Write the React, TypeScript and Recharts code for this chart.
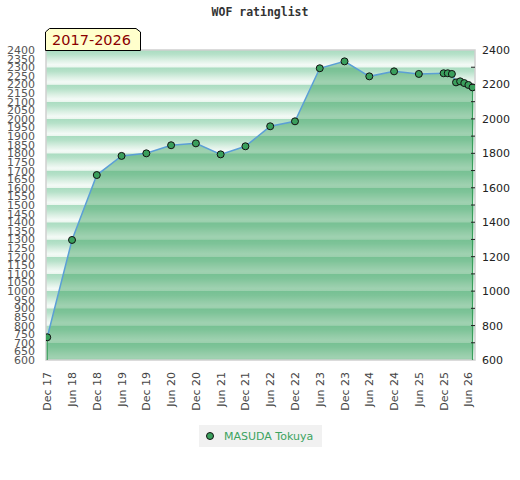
import React from "react";
import {
  ComposedChart,
  Area,
  Line,
  XAxis,
  YAxis,
  ReferenceArea,
  ReferenceLine,
} from "recharts";

// months since Dec 2017
const months = [0, 6, 12, 18, 24, 30, 36, 42, 48, 54, 60, 66, 72, 78, 84, 90, 96, 97, 98, 99, 100, 101, 102, 103];
const ratings = [732, 1297, 1674, 1785, 1800, 1847, 1858, 1794, 1841, 1957, 1986, 2294, 2334, 2247, 2276, 2261, 2265, 2265, 2261, 2212, 2218, 2208, 2197, 2183];

const xTickValues = [0, 6, 12, 18, 24, 30, 36, 42, 48, 54, 60, 66, 72, 78, 84, 90, 96, 102];
const xTickLabels = [
  "Dec 17", "Jun 18", "Dec 18", "Jun 19", "Dec 19", "Jun 20", "Dec 20", "Jun 21", "Dec 21",
  "Jun 22", "Dec 22", "Jun 23", "Dec 23", "Jun 24", "Dec 24", "Jun 25", "Dec 25", "Jun 26",
];
const leftTicks = [600, 650, 700, 750, 800, 850, 900, 950, 1000, 1050, 1100, 1150, 1200, 1250, 1300, 1350, 1400, 1450, 1500, 1550, 1600, 1650, 1700, 1750, 1800, 1850, 1900, 1950, 2000, 2050, 2100, 2150, 2200, 2250, 2300, 2350, 2400];
const rightTicks = [600, 700, 800, 900, 1000, 1100, 1200, 1300, 1400, 1500, 1600, 1700, 1800, 1900, 2000, 2100, 2200, 2300, 2400];
const bandStarts = [600, 700, 800, 900, 1000, 1100, 1200, 1300, 1400, 1500, 1600, 1700, 1800, 1900, 2000, 2100, 2200, 2300];

const yDomain = [600, 2400];
const xDomain = [-0.3, 103.6];
const playerName = "MASUDA Tokuya";
const chartTitle = "WOF ratinglist";
const periodLabel = "2017-2026";

const data = months.map((m, i) => ({ m, rating: ratings[i] }));
const first = data[0];
const last = data[data.length - 1];

const FONT = "'DejaVu Sans', Verdana, sans-serif";

const XTick = (props: any) => {
  const { x, y, payload } = props;
  const idx = xTickValues.indexOf(payload.value);
  const label = idx >= 0 ? xTickLabels[idx] : "";
  return (
    <text
      x={x + 4}
      y={y + 12}
      transform={`rotate(-90, ${x + 4}, ${y + 12})`}
      textAnchor="end"
      fontSize={11}
      fontFamily={FONT}
      fill="#444"
    >
      {label}
    </text>
  );
};

const LeftTick = (props: any) => {
  const { y, payload } = props;
  return (
    <text x={35} y={y} dy="0.36em" textAnchor="end" fontSize={11} fontFamily={FONT} fill="#555">
      {payload.value}
    </text>
  );
};

const RightTick = (props: any) => {
  const { y, payload } = props;
  const v = payload.value;
  return (
    <g>
      {v !== 600 && v !== 2400 && <line x1={471} x2={475} y1={y} y2={y} stroke="#222" strokeWidth={1} />}
      {v % 200 === 0 && (
        <text x={482} y={y} dy="0.36em" textAnchor="start" fontSize={11} fontFamily={FONT} fill="#222">
          {v}
        </text>
      )}
    </g>
  );
};

const LegendBox = () => (
  <div
    style={{
      position: "absolute",
      left: 199,
      top: 425,
      width: 123,
      height: 22,
      background: "#f1f1f1",
      display: "flex",
      alignItems: "center",
      fontFamily: FONT,
      fontSize: 11,
      color: "#3ca35f",
    }}
  >
    <svg width={22} height={22} style={{ display: "block" }}>
      <circle cx={11} cy={11} r={3.5} fill="#3a9f5c" stroke="#111" strokeWidth={1} />
    </svg>
    <span style={{ marginLeft: 3 }}>{playerName}</span>
  </div>
);

export default function App() {
  return (
    <div style={{ position: "absolute", left: 0, top: 0, width: 520, height: 480, background: "#fff" }}>
      <ComposedChart
        width={520}
        height={480}
        data={data}
        margin={{ top: 50, right: 0, bottom: 0, left: 0 }}
      >
        <defs>
          <linearGradient id="bandGrad" x1="0" y1="0" x2="0" y2="1">
            <stop offset="0" stopColor="#a9dcc0" />
            <stop offset="0.25" stopColor="#b6e1c9" />
            <stop offset="0.6" stopColor="#dcf0e4" />
            <stop offset="0.85" stopColor="#f3faf6" />
            <stop offset="1" stopColor="#eaf6ee" />
          </linearGradient>
        </defs>
        <XAxis
          dataKey="m"
          type="number"
          domain={xDomain}
          ticks={xTickValues}
          allowDataOverflow
          height={120}
          tickSize={0}
          tickMargin={0}
          axisLine={false}
          tick={<XTick />}
          interval={0}
        />
        <YAxis
          yAxisId="left"
          orientation="left"
          domain={yDomain}
          ticks={leftTicks}
          width={46}
          tickSize={0}
          tickMargin={0}
          axisLine={false}
          tick={<LeftTick />}
          interval={0}
          allowDataOverflow
        />
        <YAxis
          yAxisId="right"
          orientation="right"
          domain={yDomain}
          ticks={rightTicks}
          width={45}
          tickSize={0}
          tickMargin={0}
          axisLine={false}
          tick={<RightTick />}
          interval={0}
          allowDataOverflow
        />
        {bandStarts.map((b) => (
          <ReferenceArea
            key={b}
            yAxisId="left"
            y1={b}
            y2={b + 100}
            fill="url(#bandGrad)"
            fillOpacity={1}
            stroke="none"
          />
        ))}
        <Area
          yAxisId="left"
          dataKey="rating"
          type="linear"
          baseValue={600}
          fill="#3aa05e"
          fillOpacity={0.45}
          stroke="none"
          isAnimationActive={false}
          dot={false}
          activeDot={false}
          legendType="none"
        />
        <ReferenceLine
          yAxisId="left"
          segment={[{ x: first.m, y: yDomain[0] }, { x: first.m, y: first.rating }]}
          stroke="#3a9f5c"
          strokeWidth={1.2}
        />
        <ReferenceLine
          yAxisId="left"
          segment={[{ x: last.m, y: yDomain[0] }, { x: last.m, y: last.rating }]}
          stroke="#3a9f5c"
          strokeWidth={1.2}
        />
        <ReferenceArea
          yAxisId="left"
          x1={xDomain[0]}
          x2={xDomain[1]}
          y1={yDomain[0]}
          y2={yDomain[1]}
          fill="none"
          stroke="#cfcfcf"
          strokeWidth={1.5}
        />
        <Line
          yAxisId="left"
          dataKey="rating"
          name={playerName}
          type="linear"
          stroke="#5b9fd6"
          strokeWidth={1.5}
          dot={{ r: 3.5, fill: "#3a9f5c", stroke: "#111", strokeWidth: 1 }}
          activeDot={false}
          isAnimationActive={false}
        />
      </ComposedChart>
      <LegendBox />
      <svg
        width={520}
        height={60}
        style={{ position: "absolute", left: 0, top: 0, pointerEvents: "none" }}
      >
        <text
          x={260}
          y={16}
          textAnchor="middle"
          fontFamily="'DejaVu Sans Mono', monospace"
          fontWeight="bold"
          fontSize={11.5}
          fill="#333"
        >
          {chartTitle}
        </text>
        <path d="M45.5,50.5 L45.5,32 L49.5,28.5 L136,28.5 L140.5,32 L140.5,50.5 Z" fill="#ffffcc" stroke="#000" strokeWidth={1} />
        <text x={52} y={45} fontFamily={FONT} fontSize={14.5} fill="#8b0000">
          {periodLabel}
        </text>
      </svg>
    </div>
  );
}
